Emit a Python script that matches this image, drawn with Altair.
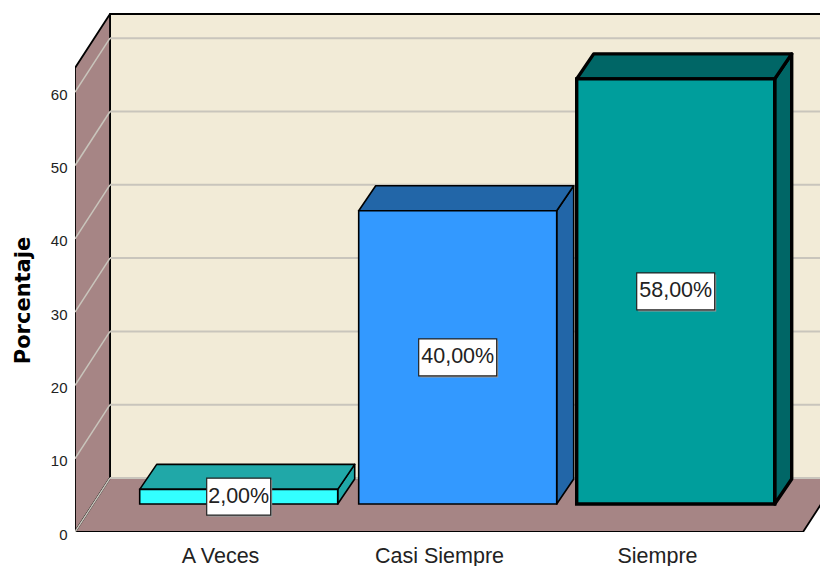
import altair as alt
import pandas as pd

categories = ["A Veces", "Casi Siempre", "Siempre"]
percent = [2.0, 40.0, 58.0]
labels = ["2,00%", "40,00%", "58,00%"]
tick_values = [0, 10, 20, 30, 40, 50, 60]
front_colors = ["#33FFFF", "#3399FF", "#009E9C"]
top_colors = ["#20A8A8", "#2266A8", "#006666"]
side_colors = ["#20A8A8", "#2266A8", "#006666"]
stroke_widths = [1.6, 1.6, 3.4]
label_widths = [64, 78, 78]

PX = 7.33              # pixels per percent, used only for depth conversion
WALL_TOP = 63.3
FLOOR_W, FLOOR_D = 35, 54 / PX
BAR_BASE = 28 / PX
BAR_DX, BAR_DY = 17, 25 / PX
BAR_SHIFT = 18.7
AXIS_POS = [145, 364, 582]
BAR_W = 198
X_MAX = 745
Y_MAX = 524 / PX
FLOOR_RIGHT = 728
WALL_C, SIDE_C, GRID_C = "#F2EBD7", "#A68585", "#C9C5BC"
LW = 1.8
TEXT_C = "#222222"
FONT = "Liberation Sans"

xs = alt.Scale(domain=[0, X_MAX], nice=False, zero=False)
ys = alt.Scale(domain=[0, Y_MAX], nice=False, zero=False)
label_map = "{" + ",".join(f"'{p}':'{c}'" for p, c in zip(AXIS_POS, categories)) + "}"
x_axis = alt.Axis(values=AXIS_POS, labelExpr=label_map + "[datum.value]", domain=False, ticks=False, grid=False,
                  title=None, labelFont=FONT, labelFontSize=21.5, labelColor=TEXT_C,
                  labelPadding=13, labelOverlap=False, labelFlush=False)
y_axis = alt.Axis(values=tick_values, format="d", domain=False, ticks=False, grid=False,
                  title="Porcentaje", titleFont="DejaVu Sans", titleFontSize=21, titleFontWeight="bold",
                  titleColor="black", titleAngle=270, titleX=-42, titleY=292, titleAlign="center",
                  labelFont=FONT, labelFontSize=15, labelColor=TEXT_C, labelPadding=8, labelOffset=2)
X = alt.X("x:Q", scale=xs, axis=x_axis)
Y = alt.Y("y:Q", scale=ys, axis=y_axis)


def vert(x0, x1, lo0, hi0, lo1, hi1, fill, sw=LW, stroke="black"):
    d = pd.DataFrame({"x": [x0, x1], "y": [lo0, lo1], "y2": [hi0, hi1]})
    return alt.Chart(d).mark_area(fill=fill, stroke=stroke, strokeWidth=sw, strokeJoin="round",
                                  clip=True, opacity=1).encode(x=X, y=Y, y2="y2:Q")


def horiz(y0, y1, l0, r0, l1, r1, fill, sw=LW, stroke="black"):
    d = pd.DataFrame({"y": [y0, y1], "x": [l0, l1], "x2": [r0, r1]})
    return alt.Chart(d).mark_area(orient="horizontal", fill=fill, stroke=stroke, strokeWidth=sw,
                                  strokeJoin="round", clip=True, opacity=1).encode(x=X, x2="x2:Q", y=Y)


def seg(x0, x1, y0, y1, color=GRID_C, sw=2):
    d = pd.DataFrame({"x": [x0, x1], "y": [y0, y1]})
    return alt.Chart(d).mark_line(color=color, strokeWidth=sw, clip=True).encode(x=X, y=Y)


layers = [
    vert(FLOOR_W, X_MAX + 40, FLOOR_D, FLOOR_D + WALL_TOP, FLOOR_D, FLOOR_D + WALL_TOP, WALL_C, sw=LW),
    vert(0, FLOOR_W, 0, WALL_TOP, FLOOR_D, FLOOR_D + WALL_TOP, SIDE_C),
]
for t in tick_values[1:]:
    layers.append(seg(FLOOR_W, X_MAX + 40, FLOOR_D + t, FLOOR_D + t))
    layers.append(seg(0, FLOOR_W, t, FLOOR_D + t, sw=1.5))
layers.append(horiz(0, FLOOR_D, 0, FLOOR_RIGHT, FLOOR_W, FLOOR_RIGHT + FLOOR_W, SIDE_C))
layers.append(seg(0, FLOOR_W, 0, FLOOR_D, sw=1.5))
layers.append(seg(FLOOR_W, X_MAX + 40, FLOOR_D, FLOOR_D, sw=2))

label_rows = []
for i, (p, v) in enumerate(zip(AXIS_POS, percent)):
    x0 = p + BAR_SHIFT - BAR_W / 2
    x1 = x0 + BAR_W
    lo, hi = BAR_BASE, BAR_BASE + v
    sw = stroke_widths[i]
    layers.append(vert(x1, x1 + BAR_DX, lo, hi, lo + BAR_DY, hi + BAR_DY, side_colors[i], sw))
    layers.append(horiz(hi, hi + BAR_DY, x0, x1, x0 + BAR_DX, x1 + BAR_DX, top_colors[i], sw))
    front = pd.DataFrame({"x": [x0], "x2": [x1], "y": [lo], "y2": [hi]})
    layers.append(alt.Chart(front).mark_rect(fill=front_colors[i], stroke="black", strokeWidth=sw).encode(
        x=X, x2="x2:Q", y=Y, y2="y2:Q"))
    cx, cy = (x0 + x1) / 2, (lo + hi) / 2
    label_rows.append({"x": cx - label_widths[i] / 2, "x2": cx + label_widths[i] / 2,
                       "y": cy - 18.5 / PX, "y2": cy + 18.5 / PX, "cx": cx, "cy": cy, "text": labels[i]})

lab = pd.DataFrame(label_rows)
shadow = alt.Chart(lab).mark_rect(fill="#9A9A9A", xOffset=1.5, yOffset=1.5, x2Offset=1.5, y2Offset=1.5).encode(
    x=X, x2="x2:Q", y=Y, y2="y2:Q")
box = alt.Chart(lab).mark_rect(fill="white", stroke="#222222", strokeWidth=1.2).encode(
    x=X, x2="x2:Q", y=Y, y2="y2:Q")
txt = alt.Chart(lab).mark_text(font=FONT, fontSize=21.5, color=TEXT_C,
                               align="center", baseline="middle").encode(
    x=alt.X("cx:Q", scale=xs, axis=x_axis), y=alt.Y("cy:Q", scale=ys, axis=y_axis), text="text:N")
layers += [shadow, box, txt]

chart = alt.layer(*layers).resolve_scale(x="shared", y="shared").properties(
    width=X_MAX, height=524,
    autosize=alt.AutoSizeParams(type="none"),
    padding={"left": 67, "top": 0, "right": 0, "bottom": 34},
    background="white",
).configure_view(stroke=None)

chart.save("out.html", embed_options={"renderer": "svg", "actions": False})
